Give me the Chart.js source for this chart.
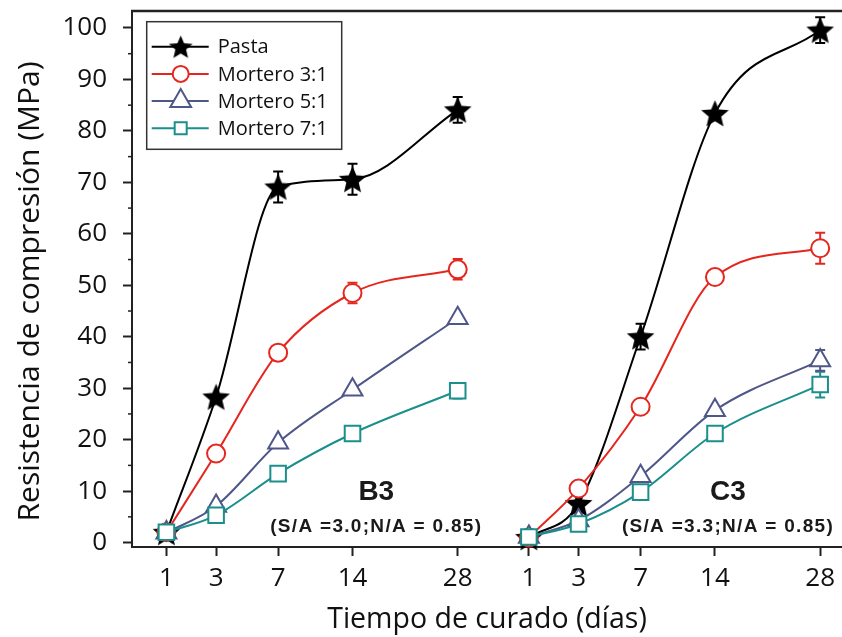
<!DOCTYPE html>
<html><head><meta charset="utf-8">
<script src="https://cdn.jsdelivr.net/npm/chart.js@4/dist/chart.umd.min.js"></script>
<style>html,body{margin:0;padding:0;background:#fff;}#wrap{position:relative;width:842px;height:637px;}</style>
</head><body><div id="wrap"><canvas id="c" width="842" height="637"></canvas></div>
<script>
// ---- data ----
const days = [1, 3, 7, 14, 28];
const groupNames = ['B3', 'C3'];
const groupNotes = ['(S/A =3.0;N/A = 0.85)', '(S/A =3.3;N/A = 0.85)'];
const seriesNames = ['Pasta', 'Mortero 3:1', 'Mortero 5:1', 'Mortero 7:1'];
const yTitle = 'Resistencia de compresión (MPa)';
const xTitle = 'Tiempo de curado (días)';
const yTicks = [0, 10, 20, 30, 40, 50, 60, 70, 80, 90, 100];
const yMinorTicks = [5, 15, 25, 35, 45, 55, 65, 75, 85, 95];

const pastaB3 = [2.0, 28.3, 69.1, 70.6, 84.1];
const pastaC3 = [1.0, 7.6, 40.0, 83.4, 99.6];
const m31B3 = [2.0, 17.3, 36.9, 48.5, 53.1];
const m31C3 = [1.0, 10.5, 26.4, 51.6, 57.2];
const m51B3 = [1.9, 7.1, 19.4, 29.7, 43.6];
const m51C3 = [1.1, 4.3, 12.9, 25.7, 35.4];
const m71B3 = [2.0, 5.3, 13.4, 21.2, 29.5];
const m71C3 = [1.1, 3.6, 9.8, 21.2, 30.7];

const pastaB3Err = [0, 0, 3.0, 3.0, 2.5];
const pastaC3Err = [0, 0, 2.5, 0, 2.5];
const m31B3Err = [0, 0, 1.5, 2.0, 2.0];
const m31C3Err = [0, 0, 0, 0, 3.0];
const m51B3Err = [0, 0, 0, 0, 0];
const m51C3Err = [0, 0, 0, 0, 2.0];
const m71B3Err = [0, 0, 0, 0, 1.5];
const m71C3Err = [0, 0, 0, 0, 2.5];

// ---- layout / style ----
const GROUP_GAP = 5.34;          // horizontal offset of 2nd panel (sqrt-day units)
const X_MIN = 0.493, X_MAX = 10.953, Y_MIN = -0.86, Y_MAX = 103.3;
const xOf = (d, g) => Math.sqrt(d) + g * GROUP_GAP;
const xTickValues = [], xTickLabels = [];
groupNames.forEach((_, g) => days.forEach(d => { xTickValues.push(xOf(d, g)); xTickLabels.push(String(d)); }));

const colors = ['#000000', '#e5261e', '#4f5788', '#1a8f8b'];

function starCanvas(r, color) {
  const s = Math.ceil(r * 2 + 4);
  const c = document.createElement('canvas'); c.width = s; c.height = s;
  const g = c.getContext('2d');
  g.translate(s / 2, s / 2 + r * 0.09);
  g.beginPath();
  for (let k = 0; k < 10; k++) {
    const rr = k % 2 === 0 ? r : r * 0.45;
    const a = -Math.PI / 2 + k * Math.PI / 5;
    g.lineTo(rr * Math.cos(a), rr * Math.sin(a));
  }
  g.closePath(); g.fillStyle = color; g.fill();
  return c;
}
const starBig = starCanvas(14.5, '#000');
const starSmall = starCanvas(12.5, '#000');

const markerStyles = [
  { pointStyle: starBig, radius: 14 },
  { pointStyle: 'circle', radius: 9 },
  { pointStyle: 'triangle', radius: 11.5 },
  { pointStyle: 'rect', radius: 11 }
];
const legendMarkers = [
  { pointStyle: starSmall, radius: 12 },
  { pointStyle: 'circle', radius: 8 },
  { pointStyle: 'triangle', radius: 12 },
  { pointStyle: 'rect', radius: 8.5 }
];

const seriesByGroup = [
  [pastaB3, m31B3, m51B3, m71B3],
  [pastaC3, m31C3, m51C3, m71C3]
];
const errByGroup = [
  [pastaB3Err, m31B3Err, m51B3Err, m71B3Err],
  [pastaC3Err, m31C3Err, m51C3Err, m71C3Err]
];

const datasets = [];
for (let s = 3; s >= 0; s--) {
  for (let g = 0; g < 2; g++) {
    const vals = seriesByGroup[g][s];
    datasets.push({
      label: seriesNames[s] + ' ' + groupNames[g],
      data: days.map((d, i) => ({ x: xOf(d, g), y: vals[i] })),
      errors: errByGroup[g][s],
      borderColor: colors[s],
      backgroundColor: '#ffffff',
      pointBorderColor: colors[s],
      pointBackgroundColor: s === 0 ? '#000' : '#ffffff',
      pointBorderWidth: 2,
      pointStyle: markerStyles[s].pointStyle,
      pointRadius: markerStyles[s].radius,
      borderWidth: 2,
      cubicInterpolationMode: 'monotone',
      fill: false,
      clip: false
    });
  }
}

const decorPlugin = {
  id: 'decor',
  beforeDatasetsDraw(chart) {
    const { ctx } = chart; const xs = chart.scales.x, ys = chart.scales.y;
    ctx.save();
    chart.data.datasets.forEach(ds => {
      ctx.strokeStyle = ds.borderColor; ctx.lineWidth = 2;
      ds.data.forEach((p, i) => {
        const e = ds.errors[i]; if (!e) return;
        const px = xs.getPixelForValue(p.x);
        const y1 = ys.getPixelForValue(p.y + e), y2 = ys.getPixelForValue(p.y - e);
        ctx.beginPath();
        ctx.moveTo(px, y1); ctx.lineTo(px, y2);
        ctx.moveTo(px - 5, y1); ctx.lineTo(px + 5, y1);
        ctx.moveTo(px - 5, y2); ctx.lineTo(px + 5, y2);
        ctx.stroke();
      });
    });
    ctx.restore();
  },
  afterDraw(chart) {
    const { ctx, chartArea: a } = chart; const xs = chart.scales.x, ys = chart.scales.y;
    ctx.save();
    // top frame line
    ctx.strokeStyle = '#222'; ctx.lineWidth = 2.5;
    ctx.beginPath(); ctx.moveTo(a.left - 1, a.top); ctx.lineTo(a.right, a.top); ctx.stroke();
    // minor y ticks
    ctx.lineWidth = 1.5;
    yMinorTicks.forEach(v => {
      const py = ys.getPixelForValue(v);
      ctx.beginPath(); ctx.moveTo(a.left - 4, py); ctx.lineTo(a.left, py); ctx.stroke();
    });
    // y axis title
    ctx.save();
    ctx.translate(30, ys.getPixelForValue(48.8));
    ctx.rotate(-Math.PI / 2);
    ctx.fillStyle = '#111'; ctx.font = '30px "Open Sans", sans-serif';
    ctx.textAlign = 'center'; ctx.textBaseline = 'middle';
    ctx.fillText(yTitle, 0, 0);
    ctx.restore();
    // panel labels
    const labelX = [4.092, 9.273];
    ctx.fillStyle = '#1a1a1a'; ctx.textAlign = 'center'; ctx.textBaseline = 'middle';
    groupNames.forEach((n, g) => {
      const px = xs.getPixelForValue(labelX[g]);
      ctx.font = 'bold 28px "Liberation Sans", Arial, sans-serif';
      ctx.fillText(n, px, ys.getPixelForValue(9.8));
      ctx.font = 'bold 19px "Liberation Sans", Arial, sans-serif';
      ctx.letterSpacing = '1.3px';
      ctx.fillText(groupNotes[g], px, ys.getPixelForValue(3.1));
      ctx.letterSpacing = '0px';
    });
    // legend
    const lx = a.left + 14.7, ly = a.top + 10.7, lw = 195, lh = 127.6;
    ctx.fillStyle = '#fff'; ctx.fillRect(lx, ly, lw, lh);
    ctx.strokeStyle = '#333'; ctx.lineWidth = 1.5; ctx.strokeRect(lx, ly, lw, lh);
    ctx.font = '20px "Open Sans", sans-serif'; ctx.textAlign = 'left'; ctx.textBaseline = 'middle';
    seriesNames.forEach((n, s) => {
      const cy = ly + 25 + s * 27.2;
      ctx.strokeStyle = colors[s]; ctx.lineWidth = 2;
      ctx.beginPath(); ctx.moveTo(lx + 5, cy); ctx.lineTo(lx + 62, cy); ctx.stroke();
      ctx.fillStyle = s === 0 ? '#000' : '#fff';
      Chart.helpers.drawPoint(ctx, { pointStyle: legendMarkers[s].pointStyle, radius: legendMarkers[s].radius, borderWidth: 2, rotation: 0 }, lx + 34, cy);
      ctx.fillStyle = '#111';
      ctx.fillText(n, lx + 71, cy + 1);
    });
    ctx.restore();
  }
};

new Chart(document.getElementById('c'), {
  type: 'line',
  data: { datasets },
  options: {
    responsive: false, animation: false, devicePixelRatio: 1,
    layout: { autoPadding: false, padding: { top: 11, right: 0, left: 0, bottom: 0 } },
    plugins: { legend: { display: false }, tooltip: { enabled: false } },
    scales: {
      x: {
        type: 'linear', min: X_MIN, max: X_MAX,
        afterBuildTicks: s => { s.ticks = xTickValues.map(v => ({ value: v })); },
        afterFit: s => { s.height = 90; s.paddingLeft = 0; s.paddingRight = 0; },
        grid: { drawOnChartArea: false, drawTicks: true, tickLength: 9, tickColor: '#222', tickWidth: 2 },
        border: { display: true, color: '#222', width: 2 },
        ticks: { autoSkip: false, maxRotation: 0, padding: 7, color: '#111',
          font: { family: '"Open Sans", sans-serif', size: 26 },
          callback: (v, i) => xTickLabels[i] },
        title: { display: true, text: xTitle, color: '#111',
          font: { family: '"Open Sans", sans-serif', size: 28.5, lineHeight: 1.2 }, padding: { top: 0, bottom: 0 } }
      },
      y: {
        type: 'linear', min: Y_MIN, max: Y_MAX,
        afterBuildTicks: s => { s.ticks = yTicks.map(v => ({ value: v })); },
        afterFit: s => { s.width = 132; s.paddingTop = 0; s.paddingBottom = 0; },
        grid: { drawOnChartArea: false, drawTicks: true, tickLength: 9, tickColor: '#222', tickWidth: 2 },
        border: { display: true, color: '#222', width: 2 },
        ticks: { padding: 16, color: '#111', font: { family: '"Open Sans", sans-serif', size: 26 },
          callback: v => String(v) },
        title: { display: false, text: yTitle }
      }
    }
  },
  plugins: [decorPlugin]
});
</script></body></html>
